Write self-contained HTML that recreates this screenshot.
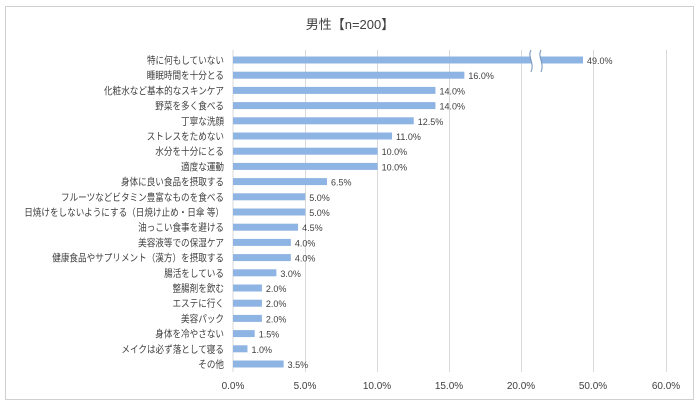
<!DOCTYPE html>
<html><head><meta charset="utf-8"><style>
body{margin:0;background:#fff;width:700px;height:406px;overflow:hidden}
svg text{font-family:"Liberation Sans","Noto Sans CJK JP",sans-serif;fill:#404040}
</style></head><body>
<svg width="700" height="406" xmlns="http://www.w3.org/2000/svg">
<rect x="5.5" y="6.5" width="688" height="393" fill="#fff" stroke="#d0d0d0"/>
<text x="350" y="29" font-size="13" text-anchor="middle">男性【n=200】</text>
<g stroke="#d9d9d9" stroke-width="1">
<line x1="233" y1="50" x2="233" y2="372"/>
<line x1="305.5" y1="50" x2="305.5" y2="372"/>
<line x1="377.5" y1="50" x2="377.5" y2="372"/>
<line x1="449.5" y1="50" x2="449.5" y2="372"/>
<line x1="521.5" y1="50" x2="521.5" y2="372"/>
<line x1="593.5" y1="50" x2="593.5" y2="372"/>
<line x1="666.5" y1="50" x2="666.5" y2="372"/>
</g>
<g id="bars" fill="#8eb4e3" font-size="9"></g>
<g font-size="10" text-anchor="end" id="labels" transform="translate(224,0) scale(0.86,1) translate(-224,0)"></g>
<path d="M531 50 C527 57,535 63,531 72 L541 72 C545 63,537 57,541 50 Z" fill="#fff"/>
<path d="M531 50 C527 57,535 63,531 72 M541 50 C537 57,545 63,541 72" stroke="#6f8fb8" fill="none" stroke-width="1"/>
<g font-size="10" text-anchor="middle">
<text x="233" y="389">0.0%</text><text x="305" y="389">5.0%</text><text x="377" y="389">10.0%</text><text x="449" y="389">15.0%</text><text x="521" y="389">20.0%</text><text x="593" y="389">50.0%</text><text x="666" y="389">60.0%</text>
</g>
<script>
var d=[["特に何もしていない",49],["睡眠時間を十分とる",16],["化粧水など基本的なスキンケア",14],["野菜を多く食べる",14],["丁寧な洗顔",12.5],["ストレスをためない",11],["水分を十分にとる",10],["適度な運動",10],["身体に良い食品を摂取する",6.5],["フルーツなどビタミン豊富なものを食べる",5],["日焼けをしないようにする（日焼け止め・日傘 等）",5],["油っこい食事を避ける",4.5],["美容液等での保湿ケア",4],["健康食品やサプリメント（漢方）を摂取する",4],["腸活をしている",3],["整腸剤を飲む",2],["エステに行く",2],["美容パック",2],["身体を冷やさない",1.5],["メイクは必ず落として寝る",1],["その他",3.5]];
var ns="http://www.w3.org/2000/svg",b=document.getElementById("bars"),l=document.getElementById("labels");
d.forEach(function(r,i){var y=60+i*15.2;var w=r[1]>40?350:r[1]*14.46;
var rc=document.createElementNS(ns,"rect");rc.setAttribute("x",233);rc.setAttribute("y",y-3.5);rc.setAttribute("width",w);rc.setAttribute("height",7);b.appendChild(rc);
var t=document.createElementNS(ns,"text");t.setAttribute("x",233+w+4);t.setAttribute("y",y+4);t.style.fill="#404040";t.textContent=r[1].toFixed(1)+"%";b.appendChild(t);
var u=document.createElementNS(ns,"text");u.setAttribute("x",224);u.setAttribute("y",y+4);u.textContent=r[0];l.appendChild(u);});
</script>
</svg>
</body></html>
